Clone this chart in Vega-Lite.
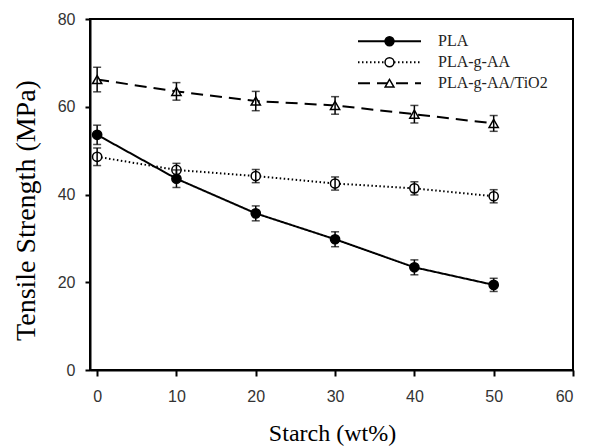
{
  "$schema": "https://vega.github.io/schema/vega-lite/v6.json",
  "width": 483,
  "height": 351,
  "autosize": "none",
  "padding": {"left": 90, "top": 19, "right": 19, "bottom": 76},
  "background": "white",
  "config": {
    "view": {"stroke": "black", "strokeWidth": 2},
    "axis": {
      "grid": false,
      "domainColor": "black",
      "domainWidth": 2,
      "tickColor": "black",
      "tickWidth": 2,
      "tickSize": 5,
      "labelFont": "Liberation Sans",
      "labelFontSize": 16,
      "labelColor": "#333333",
      "titleFont": "Liberation Serif",
      "titleFontSize": 24,
      "titleFontWeight": "normal",
      "titleColor": "black"
    }
  },
  "data": {
    "values": [
      {"starch": 0, "ts": 53.6, "err": 2.2, "series": "PLA"},
      {"starch": 10, "ts": 43.6, "err": 2.0, "series": "PLA"},
      {"starch": 20, "ts": 35.7, "err": 1.7, "series": "PLA"},
      {"starch": 30, "ts": 29.8, "err": 1.7, "series": "PLA"},
      {"starch": 40, "ts": 23.4, "err": 1.7, "series": "PLA"},
      {"starch": 50, "ts": 19.4, "err": 1.5, "series": "PLA"},
      {"starch": 0, "ts": 48.6, "err": 2.0, "series": "PLA-g-AA"},
      {"starch": 10, "ts": 45.6, "err": 1.5, "series": "PLA-g-AA"},
      {"starch": 20, "ts": 44.2, "err": 1.5, "series": "PLA-g-AA"},
      {"starch": 30, "ts": 42.5, "err": 1.5, "series": "PLA-g-AA"},
      {"starch": 40, "ts": 41.4, "err": 1.5, "series": "PLA-g-AA"},
      {"starch": 50, "ts": 39.6, "err": 1.5, "series": "PLA-g-AA"},
      {"starch": 0, "ts": 66.2, "err": 2.8, "series": "PLA-g-AA/TiO2"},
      {"starch": 10, "ts": 63.5, "err": 2.0, "series": "PLA-g-AA/TiO2"},
      {"starch": 20, "ts": 61.3, "err": 2.2, "series": "PLA-g-AA/TiO2"},
      {"starch": 30, "ts": 60.3, "err": 2.0, "series": "PLA-g-AA/TiO2"},
      {"starch": 40, "ts": 58.3, "err": 2.0, "series": "PLA-g-AA/TiO2"},
      {"starch": 50, "ts": 56.2, "err": 1.8, "series": "PLA-g-AA/TiO2"}
    ]
  },
  "encoding": {
    "x": {
      "field": "starch",
      "type": "quantitative",
      "scale": {"domain": [-0.9, 60], "nice": false, "zero": false},
      "axis": {
        "values": [0, 10, 20, 30, 40, 50, 60],
        "title": "Starch (wt%)",
        "tickSize": 6,
        "labelPadding": 12,
        "titleX": 242,
        "titleY": 63,
        "titleBaseline": "middle",
        "titleAlign": "center"
      }
    },
    "y": {
      "field": "ts",
      "type": "quantitative",
      "scale": {"domain": [0, 80], "nice": false},
      "axis": {
        "values": [0, 20, 40, 60, 80],
        "title": "Tensile Strength (MPa)",
        "labelPadding": 10,
        "titleFontSize": 28,
        "titleX": -64,
        "titleY": 191,
        "titleBaseline": "middle",
        "titleAlign": "center",
        "titleAngle": -90
      }
    }
  },
  "layer": [
    {
      "mark": {"type": "line", "color": "black", "strokeWidth": 2},
      "encoding": {
        "detail": {"field": "series"},
        "strokeDash": {
          "field": "series",
          "type": "nominal",
          "scale": {"range": [[1, 0], [1.5, 2.5], [12, 7]]},
          "legend": {
            "title": null,
            "orient": "none",
            "legendX": 267,
            "legendY": 12,
            "padding": 0,
            "clipHeight": 20.5,
            "rowPadding": 0,
            "symbolType": "stroke",
            "symbolSize": 3969,
            "symbolStrokeColor": "black",
            "symbolStrokeWidth": 2,
            "labelOffset": 16,
            "labelFont": "Liberation Serif",
            "labelFontSize": 16,
            "labelColor": "#222222"
          }
        }
      }
    },
    {
      "mark": {"type": "point", "filled": false, "stroke": "black", "strokeWidth": 1.5, "opacity": 1},
      "encoding": {
        "shape": {
          "field": "series",
          "type": "nominal",
          "scale": {"domain": ["PLA", "PLA-g-AA", "PLA-g-AA/TiO2"], "range": ["circle", "circle", "triangle-up"]},
          "legend": {
            "title": null,
            "orient": "none",
            "legendX": 294,
            "legendY": 12,
            "padding": 0,
            "clipHeight": 20.5,
            "rowPadding": 0,
            "symbolSize": 80,
            "labelExpr": "''",
            "encode": {
              "symbols": {
                "update": {
                  "fill": {"signal": "datum.value === 'PLA' ? 'black' : 'white'"},
                  "stroke": {"value": "black"},
                  "strokeWidth": {"value": 1.5},
                  "opacity": {"value": 1}
                }
              }
            }
          }
        },
        "fill": {
          "field": "series",
          "type": "nominal",
          "scale": {"domain": ["PLA", "PLA-g-AA", "PLA-g-AA/TiO2"], "range": ["black", "white", "white"]},
          "legend": null
        },
        "size": {"value": 85}
      }
    },
    {
      "mark": {"type": "errorbar", "color": "black", "thickness": 1.5, "ticks": {"size": 8, "thickness": 1.5, "color": "black"}},
      "encoding": {
        "yError": {"field": "err"}
      }
    }
  ]
}
